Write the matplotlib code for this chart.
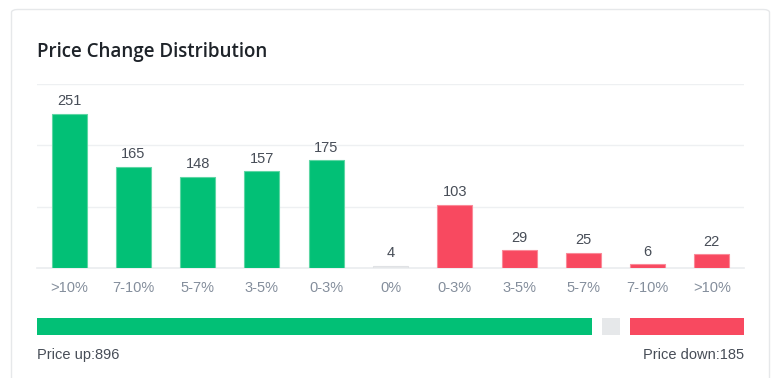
"""Price change distribution card - bar chart with up/down summary strip."""

import matplotlib
matplotlib.use('Agg')
import matplotlib.pyplot as plt
from matplotlib.patches import FancyBboxPatch

# Data
categories = ['>10%', '7-10%', '5-7%', '3-5%', '0-3%', '0%', '0-3%', '3-5%', '5-7%', '7-10%', '>10%']
counts = [251, 165, 148, 157, 175, 4, 103, 29, 25, 6, 22]
direction = ['up'] * 5 + ['flat'] + ['down'] * 5
price_up = 896
price_flat = 4
price_down = 185

# Style
GREEN = '#02C076'
RED = '#F84960'
GRAY = '#E6E8EA'
face = {'up': GREEN, 'flat': GRAY, 'down': RED}
edge = {'up': '#5ED6A4', 'flat': '#E0E2E5', 'down': '#FA8A98'}

W, H = 782, 378
fig = plt.figure(figsize=(W / 100, H / 100), dpi=100)
fig.patch.set_facecolor('white')

# Card frame (behind everything)
card = FancyBboxPatch((11.5 / W, -20 / H), 758 / W, (H - 9.5 + 20) / H,
                      boxstyle='round,pad=0,rounding_size=0.008',
                      transform=fig.transFigure, facecolor='white',
                      edgecolor='#E6E8EA', linewidth=1.0, zorder=-5)
fig.patches.append(card)

fig.text(37 / W, 1 - 52 / H, 'Price Change Distribution', fontsize=13.5,
         family='Open Sans', fontweight='semibold', color='#1E2329', va='center')

# Bar axes
left, right = 37, 744
ax = fig.add_axes([left / W, (H - 268) / H, (right - left) / W, (268 - 83.5) / H])
xs = list(range(len(categories)))
ax.bar(xs, counts, width=0.545,
       color=[face[d] for d in direction],
       edgecolor=[edge[d] for d in direction], linewidth=0.8, zorder=3)

ax.set_xlim(-0.5, len(categories) - 0.5)
ax.set_ylim(0, 300)
ax.set_yticks([100, 200, 300])
ax.yaxis.grid(True, color='#EEF0F2', linewidth=1.0, zorder=0)
ax.tick_params(axis='y', left=False, labelleft=False)
ax.set_xticks(xs)
ax.set_xticklabels(categories, family='Liberation Sans', fontsize=10.5, color='#848E9C')
ax.tick_params(axis='x', length=0, pad=9)
for s in ['top', 'right', 'left']:
    ax.spines[s].set_visible(False)
ax.spines['bottom'].set_color('#EAECEF')
ax.spines['bottom'].set_linewidth(1.2)
ax.set_facecolor('none')

for x, c in zip(xs, counts):
    ax.annotate(str(c), (x, c), xytext=(0, 4), textcoords='offset points',
                ha='center', va='bottom', family='Liberation Sans',
                fontsize=10.5, color='#474D57')

# Summary strip
gap, flat_w = 10, 18
span = right - left - 2 * gap - flat_w
up_w = span * price_up / (price_up + price_down)
down_w = span - up_w
sx = fig.add_axes([left / W, (H - 335) / H, (right - left) / W, 17 / H])
sx.set_xlim(0, right - left)
sx.set_ylim(0, 1)
sx.barh(0.5, up_w, left=0, height=1, color=GREEN)
sx.barh(0.5, flat_w, left=up_w + gap, height=1, color=GRAY)
sx.barh(0.5, down_w, left=up_w + 2 * gap + flat_w, height=1, color=RED)
sx.axis('off')

fig.text(37 / W, 1 - 355 / H, 'Price up:' + f'{price_up}', fontsize=10.5,
         family='Liberation Sans', color='#474D57', va='center')
fig.text(744 / W, 1 - 355 / H, 'Price down:' + f'{price_down}', fontsize=10.5,
         family='Liberation Sans', color='#474D57', va='center', ha='right')

plt.savefig('out.png', dpi=100, facecolor='white')
